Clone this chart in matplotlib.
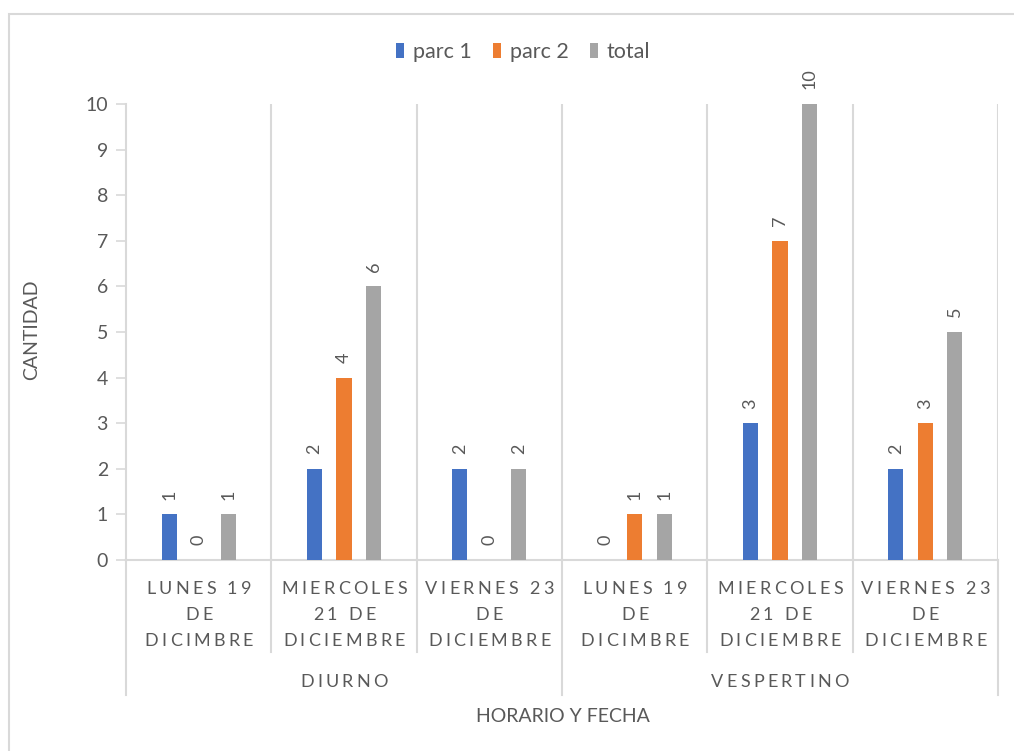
import matplotlib
matplotlib.use("Agg")
import matplotlib.pyplot as plt
from matplotlib.patches import Rectangle
from matplotlib.font_manager import FontProperties
from matplotlib.transforms import offset_copy
import numpy as np

plt.rcParams["font.family"] = ["Lato", "DejaVu Sans"]

# cantidades por fecha, agrupadas por horario
fechas = ["LUNES 19\nDE\nDICIMBRE", "MIERCOLES\n21 DE\nDICIEMBRE", "VIERNES 23\nDE\nDICIEMBRE",
          "LUNES 19\nDE\nDICIMBRE", "MIERCOLES\n21 DE\nDICIEMBRE", "VIERNES 23\nDE\nDICIEMBRE"]
horarios = ["DIURNO", "VESPERTINO"]
parc1 = [1, 2, 2, 0, 3, 2]
parc2 = [0, 4, 0, 1, 7, 3]
total = [1, 6, 2, 1, 10, 5]
series = ["parc 1", "parc 2", "total"]
colores = ["#4472C4", "#ED7D31", "#A5A5A5"]

TXT = "#595959"
GRID = "#D9D9D9"

fig = plt.figure(figsize=(10.14, 7.51), dpi=100)
ax = fig.add_axes([126 / 1014, 1 - 560 / 751, 872 / 1014, 456 / 751])
renderer = fig.canvas.get_renderer()


def texto_espaciado(x, y, s, size, extra, transform):
    # escribe una linea letra por letra con espacio extra entre caracteres (en pixeles)
    fp = FontProperties(family=plt.rcParams["font.family"], size=size)
    anchos = [renderer.get_text_width_height_descent(c, fp, ismath=False)[0] for c in s]
    total_w = sum(anchos) + extra * (len(s) - 1)
    dx = -total_w / 2
    for c, w in zip(s, anchos):
        t = offset_copy(transform, fig=fig, x=dx, y=0, units="dots")
        ax.text(x, y, c, transform=t, ha="left", va="center", fontproperties=fp,
                color=TXT, clip_on=False)
        dx += w + extra


x = np.arange(len(fechas))
ancho = 0.105
desp = 0.203
for i, (vals, nombre, col) in enumerate(zip([parc1, parc2, total], series, colores)):
    pos = x + (i - 1) * desp
    ax.bar(pos, vals, width=ancho, color=col, label=nombre, zorder=3)
    for px, v in zip(pos, vals):
        ax.annotate(str(v), (px, v), xytext=(0, 10.5), textcoords="offset points",
                    rotation=90, ha="center", va="bottom", fontsize=13, color=TXT)

ax.set_xlim(-0.5, len(fechas) - 0.5)
ax.set_ylim(0, 10)
ax.set_yticks(range(0, 11))
ax.tick_params(axis="y", labelsize=14, labelcolor=TXT, color=GRID, length=7, width=1.2, pad=6)
ax.set_xticks([])
for s in ["top", "right"]:
    ax.spines[s].set_visible(False)
for s in ["left", "bottom"]:
    ax.spines[s].set_color(GRID)
    ax.spines[s].set_linewidth(1.5)

# separadores verticales entre categorias
for k in range(1, len(fechas) + 1):
    ax.plot([k - 0.5, k - 0.5], [0, 10], color=GRID, lw=1.5, zorder=1)

# eje de categorias en dos niveles
tr = ax.get_xaxis_transform()
for k in range(len(fechas) + 1):
    fondo = -0.296 if k % 3 == 0 else -0.202
    ax.plot([k - 0.5, k - 0.5], [0, fondo], color=GRID, lw=1.5, transform=tr, clip_on=False)
for k, lab in enumerate(fechas):
    for j, linea in enumerate(lab.split("\n")):
        texto_espaciado(k, -(29 + 26 * j) / 456, linea, 13, 3.3, tr)
for g, lab in enumerate(horarios):
    texto_espaciado(g * 3 + 1, -122 / 456, lab, 13, 3.2, tr)

fig.text(563 / 1014, 1 - 716 / 751, "HORARIO Y FECHA", ha="center", va="center",
         fontsize=14, color=TXT)
fig.text(32 / 1014, 1 - 330 / 751, "CANTIDAD", ha="center", va="center", rotation=90,
         fontsize=14, color=TXT)

fig.legend(loc="center", bbox_to_anchor=(523 / 1014, 1 - 52 / 751), ncol=3, frameon=False,
           fontsize=15.5, labelcolor=TXT, handlelength=0.38, handleheight=0.7,
           handletextpad=0.4, columnspacing=1.0)

# borde del grafico
fig.patches.append(Rectangle((9 / 1014, -0.1), 1.2, 1.1 - 14 / 751, transform=fig.transFigure,
                             fill=False, edgecolor=GRID, lw=1.5))

fig.savefig("out.png", dpi=100)
